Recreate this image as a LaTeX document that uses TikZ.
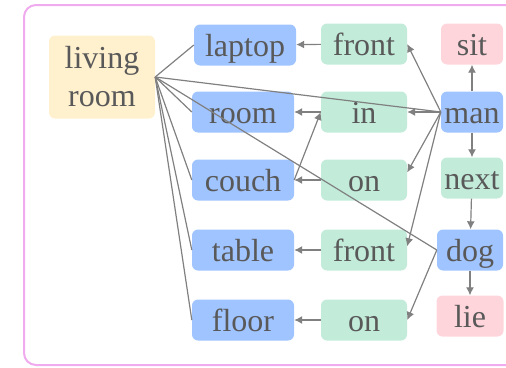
\documentclass[tikz,border=0pt]{standalone}
\usepackage{fontspec}
\setmainfont{Liberation Serif}
\usetikzlibrary{arrows.meta}
\definecolor{objblue}{HTML}{A0C4FF}
\definecolor{predgreen}{HTML}{C2EBDA}
\definecolor{attrpink}{HTML}{FFD5DC}
\definecolor{sceneyellow}{HTML}{FFF1CE}
\definecolor{framepink}{HTML}{F0AAEE}
\definecolor{textgray}{HTML}{595959}
\definecolor{linegray}{HTML}{808080}
\tikzset{box/.style={rounded corners=6pt, inner sep=0pt, minimum height=41pt,
           text height=22pt, text depth=0pt,
           text=textgray, font=\fontsize{32}{38}\selectfont},
         obj/.style={box, fill=objblue, minimum width=102pt},
         pred/.style={box, fill=predgreen, minimum width=86pt},
         attr/.style={box, fill=attrpink, minimum width=64pt},
         link/.style={draw=linegray, line width=1.2pt},
         rel/.style={link, -{Latex[length=8pt,width=8pt]}}}

\begin{document}
\begin{tikzpicture}[x=1pt,y=-1pt]
        \useasboundingbox (0,0) rectangle (506,367);
        \draw[framepink, line width=2pt, rounded corners=12pt] (24,5) rectangle (530,365);

        % scene
        \node[box, fill=sceneyellow, minimum width=106pt, minimum height=83pt,
              text height=, text depth=, align=center] (living) at (102,77) {living\\room};

        % objects
        \node[obj] (laptop) at (245,45) {laptop};
        \node[obj] (room) at (243,112) {room};
        \node[obj] (couch) at (243,180) {couch};
        \node[obj] (table) at (243,250) {table};
        \node[obj] (floor) at (243,320) {floor};
        \node[obj, minimum width=62pt] (man) at (472,112) {man};
        \node[obj, minimum width=66pt] (dog) at (470,250) {dog};

        % relations
        \node[pred] (front1) at (364,44) {front};
        \node[pred] (in) at (364,112) {in};
        \node[pred] (on1) at (364,180) {on};
        \node[pred] (front2) at (364,250) {front};
        \node[pred] (on2) at (364,320) {on};
        \node[pred, minimum width=62pt] (next) at (472,178) {next};

        % attributes
        \node[attr, minimum width=62pt] (sit) at (472,44) {sit};
        \node[attr, minimum width=67pt] (lie) at (470,316) {lie};

        % scene to objects
        \foreach \o in {laptop,room,couch,table,floor,man,dog}
            \draw[link] (living.east) -- (\o.west);

        % relation arrows
        \draw[rel] (front1) -- (laptop);
        \draw[rel] (in) -- (room);
        \draw[rel] (on1) -- (couch);
        \draw[rel] (front2) -- (table);
        \draw[rel] (on2) -- (floor);
        \draw[rel] (couch.east) -- (in.west);
        \draw[rel] (man.west) -- (front1.east);
        \draw[rel] (man.west) -- (in.east);
        \draw[rel] (man.west) -- (on1.10);
        \draw[rel] (man.west) -- (front2.5);
        \draw[rel] (dog.west) -- (on2.east);

        \draw[rel] (man) -- (sit);
        \draw[rel] (man) -- (next);
        \draw[rel] (next) -- (dog);
        \draw[rel] (dog) -- (lie);
\end{tikzpicture}
\end{document}
